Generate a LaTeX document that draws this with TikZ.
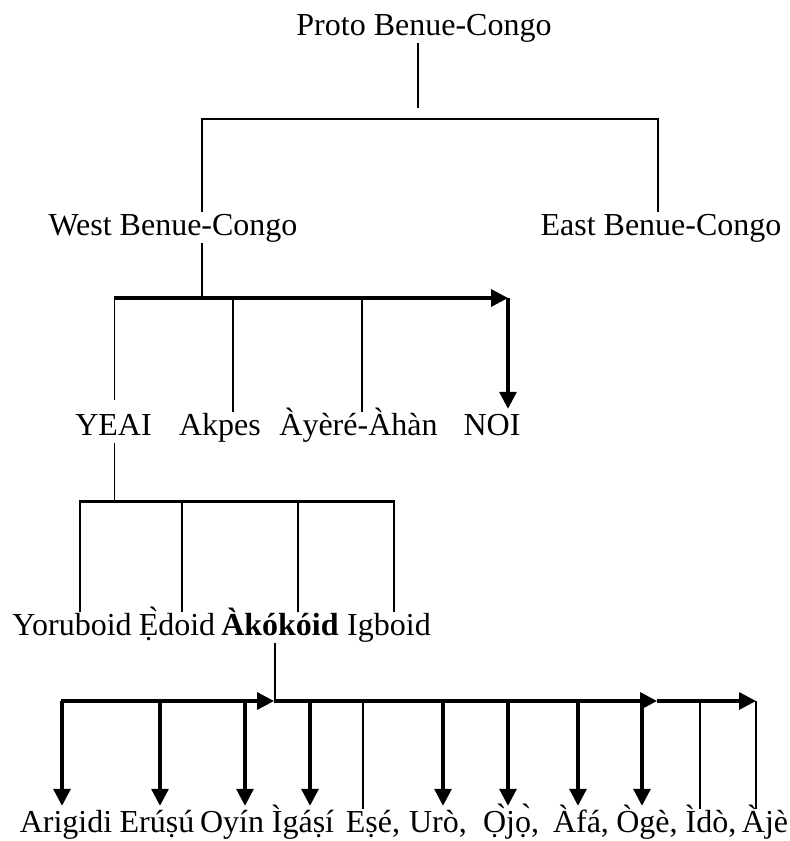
\documentclass[tikz,border=0pt]{standalone}
\usepackage{fontspec}
\setmainfont{Liberation Serif}
\usetikzlibrary{arrows.meta, positioning}

\tikzset{
  lang/.style={inner sep=0pt, anchor=base, text height=23pt, text depth=8pt},
  stem/.style={line width=1.9pt},
  twig/.style={line width=2.2pt},
  rail/.style={line width=3pt},
  railarrow/.style={line width=3.5pt, -{Triangle[length=17pt, width=17pt]}},
  drop/.style={line width=3.1pt, shorten >=3pt, -{Triangle[length=17pt, width=17pt]}},
}

\begin{document}
\begin{tikzpicture}[x=1pt, y=-1pt, font=\fontsize{32}{38}\selectfont]
\useasboundingbox (0,0) rectangle (790,841);

% top split
\node[lang] (proto) at (424,35) {Proto Benue-Congo};
\node[lang] (west) at (173,235) {West Benue-Congo};
\node[lang] (east) at (661,235) {East Benue-Congo};
\coordinate (fork1) at (418,119);
\coordinate (t-west) at (202,119);
\coordinate (t-east) at (658,119);
\draw[stem] (fork1 |- proto.south) -- ([yshift=11pt]fork1);
\draw[stem] (t-west |- west.north) -- (t-west) -- (t-east) -- (t-east |- east.north);

% west benue-congo
\node[lang] (yeai) at (113.5,435) {YEAI};
\node[lang] (akpes) at (220,435) {Akpes};
\node[lang] (ayere) at (358.5,435) {Àyèré-Àhàn};
\node[lang] (noi) at (492,435) {NOI};
\coordinate (fork2) at (202,298);
\coordinate (t-noi) at (508,298);
\draw[stem] (fork2 |- west.south) -- (fork2);
\foreach \n/\x/\s in {yeai/114.5/12, akpes/233/0, ayere/362/0}{
  \coordinate (t-\n) at (\x,298);
  \draw[stem, shorten >=\s pt] (t-\n) -- (t-\n |- \n.north);
}
\draw[railarrow] ([xshift=-1pt]t-yeai) -- (t-noi);
\draw[drop] (t-noi) -- (t-noi |- noi.north);

% yeai
\node[lang] (yoruboid) at (72,635) {Yoruboid};
\node[lang] (edoid) at (177,635) {Ẹ̀doid};
\node[lang] (akokoid) at (280,635) {\bfseries Àkókóid};
\node[lang] (igboid) at (389,635) {Igboid};
\coordinate (fork3) at (114.5,501);
\draw[stem] (fork3 |- yeai.south) -- (fork3);
\foreach \n/\x in {yoruboid/80, edoid/182, akokoid/298, igboid/394}{
  \coordinate (t-\n) at (\x,501);
  \draw[twig] (t-\n) -- (t-\n |- \n.north);
}
\draw[rail] ([xshift=-1.1pt]t-yoruboid) -- ([xshift=1.1pt]t-igboid);

% akokoid
\node[lang] (arigidi) at (66,832) {Arigidi};
\node[lang] (erusu) at (157,832) {Erúṣú};
\node[lang] (oyin) at (232,832) {Oyín};
\node[lang] (igasi) at (303,832) {Ìgáṣí};
\node[lang] (ese) at (373,832) {Eṣé,};
\node[lang] (uro) at (438,832) {Urò,};
\node[lang] (ojo) at (511,832) {Ọ̀jọ̀,};
\node[lang] (afa) at (581,832) {Àfá,};
\node[lang] (oge) at (647,832) {Ògè,};
\node[lang] (ido) at (711,832) {Ìdò,};
\node[lang] (aje) at (765,832) {Àjè};
\coordinate (fork4) at (275,701);
\coordinate (mid1) at (274,701);
\coordinate (mid2) at (657,701);
\draw[stem] (fork4 |- akokoid.south) -- (fork4);
\foreach \n/\x in {arigidi/62, erusu/160, oyin/245, igasi/310, uro/443, ojo/508, afa/578, oge/642}{
  \coordinate (t-\n) at (\x,701);
  \draw[drop] (t-\n) -- (t-\n |- \n.north);
}
\foreach \n/\x in {ese/363, ido/700, aje/756}{
  \coordinate (t-\n) at (\x,701);
  \draw[stem] (t-\n) -- (t-\n |- \n.north);
}
\draw[railarrow] ([xshift=-1.5pt]t-arigidi) -- (mid1);
\draw[railarrow] (mid1) -- (mid2);
\draw[railarrow] (mid2) -- (t-aje);
\end{tikzpicture}
\end{document}
